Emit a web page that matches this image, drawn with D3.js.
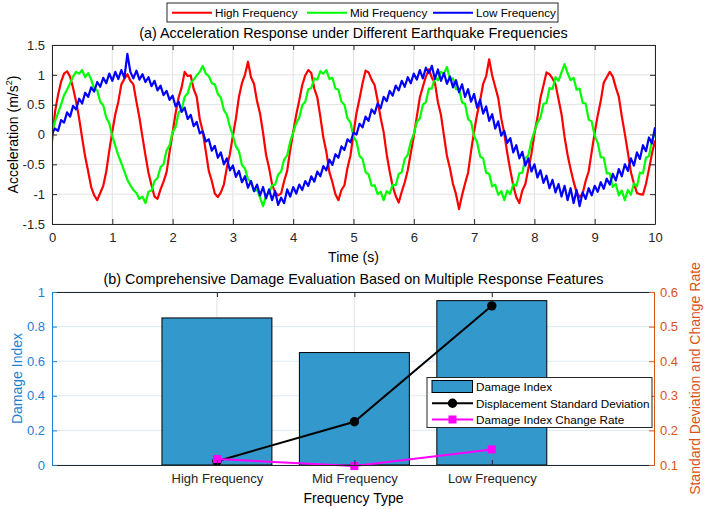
<!DOCTYPE html>
<html>
<head>
<meta charset="utf-8">
<script src="https://d3js.org/d3.v7.min.js"></script>
<style>
  body { margin: 0; background: #fff; }
  svg { font-family: "Liberation Sans", Arial, sans-serif; }
</style>
</head>
<body>
<svg id="chart" width="705" height="509"></svg>
<script>
// ---- data ----
const timeStep = 0.05; // s, samples from 0 to 10 s
const highFreq = [
  -0.12, 0.38, 0.66, 0.88, 1.02, 1.06, 0.97, 0.78, 0.55, 0.27, -0.06, -0.37, -0.62, -0.88, -1.02, -1.10, -0.98, -0.86, -0.62, -0.27,
  0.05, 0.34, 0.55, 0.84, 0.93, 1.01, 0.90, 0.84, 0.55, 0.28, -0.04, -0.35, -0.64, -0.85, -1.04, -1.08, -0.92, -0.79, -0.63, -0.29,
  0.03, 0.36, 0.62, 0.79, 1.05, 0.98, 0.99, 0.76, 0.63, 0.26, 0.05, -0.28, -0.61, -0.78, -0.99, -1.05, -0.97, -0.84, -0.55, -0.33,
  -0.02, 0.27, 0.63, 0.86, 1.00, 1.22, 0.96, 0.85, 0.56, 0.35, 0.03, -0.34, -0.56, -0.84, -0.97, -1.02, -0.99, -0.78, -0.61, -0.26,
  0.04, 0.33, 0.57, 0.83, 0.99, 1.08, 1.03, 0.77, 0.62, 0.30, -0.05, -0.29, -0.63, -0.80, -1.00, -1.10, -0.93, -0.85, -0.56, -0.35,
  0.02, 0.36, 0.60, 0.86, 1.07, 1.04, 0.92, 0.83, 0.57, 0.28, 0.04, -0.33, -0.62, -0.87, -1.03, -1.14, -0.96, -0.80, -0.60, -0.31,
  -0.03, 0.30, 0.62, 0.80, 0.97, 1.09, 0.95, 0.87, 0.54, 0.33, -0.02, -0.36, -0.57, -0.83, -1.00, -1.25, -1.02, -0.82, -0.64, -0.28,
  0.05, 0.34, 0.57, 0.85, 0.98, 1.26, 0.99, 0.80, 0.61, 0.27, 0.02, -0.31, -0.60, -0.86, -1.05, -1.15, -0.94, -0.83, -0.57, -0.33,
  0.01, 0.28, 0.61, 0.82, 1.04, 1.01, 0.94, 0.84, 0.59, 0.34, -0.04, -0.34, -0.58, -0.79, -0.97, -1.05, -0.99, -0.78, -0.62, -0.29,
  0.03, 0.32, 0.56, 0.87, 0.96, 1.05, 0.97, 0.79, 0.63, 0.30, 0.01, -0.30, -0.63, -0.82, -0.98, -1.00, -1.01, -0.83, -0.58, -0.32,
  -0.10
];
const midFreq = [
  0.02, 0.22, 0.36, 0.50, 0.66, 0.75, 0.86, 0.97, 1.05, 1.02, 1.08, 0.96, 1.03, 0.92, 0.77, 0.74, 0.55, 0.49, 0.28, 0.19,
  -0.03, -0.19, -0.35, -0.48, -0.62, -0.76, -0.85, -0.93, -0.98, -1.08, -1.04, -1.15, -0.96, -0.94, -0.78, -0.73, -0.55, -0.50, -0.27, -0.18,
  0.04, 0.13, 0.37, 0.42, 0.63, 0.69, 0.86, 0.92, 0.99, 1.05, 1.15, 1.02, 0.98, 0.86, 0.84, 0.68, 0.62, 0.41, 0.33, 0.13,
  -0.02, -0.20, -0.28, -0.51, -0.57, -0.75, -0.79, -0.95, -0.92, -1.06, -1.20, -1.02, -0.99, -0.85, -0.84, -0.67, -0.62, -0.42, -0.35, -0.12,
  0.03, 0.19, 0.28, 0.49, 0.55, 0.76, 0.78, 0.94, 0.92, 1.06, 1.02, 1.08, 0.93, 0.95, 0.77, 0.75, 0.55, 0.50, 0.27, 0.20,
  -0.04, -0.12, -0.36, -0.41, -0.63, -0.67, -0.86, -0.85, -1.00, -0.96, -1.10, -0.95, -0.99, -0.84, -0.85, -0.66, -0.63, -0.41, -0.34, -0.12,
  0.01, 0.21, 0.27, 0.50, 0.54, 0.77, 0.77, 0.95, 0.91, 1.05, 1.02, 1.13, 0.92, 0.94, 0.76, 0.76, 0.54, 0.51, 0.26, 0.21,
  -0.03, -0.13, -0.37, -0.40, -0.64, -0.66, -0.87, -0.84, -1.01, -0.95, -1.10, -0.94, -1.00, -0.83, -0.86, -0.65, -0.64, -0.40, -0.35, -0.11,
  0.05, 0.20, 0.28, 0.51, 0.53, 0.78, 0.76, 0.96, 0.90, 1.04, 1.18, 1.03, 0.91, 0.95, 0.75, 0.77, 0.53, 0.52, 0.25, 0.22,
  -0.02, -0.14, -0.38, -0.39, -0.65, -0.65, -0.88, -0.83, -1.02, -0.94, -1.10, -0.93, -1.01, -0.82, -0.87, -0.64, -0.65, -0.39, -0.36, -0.10,
  0.03
];
const lowFreq = [
  0.02, 0.10, 0.06, 0.24, 0.20, 0.37, 0.30, 0.48, 0.42, 0.60, 0.52, 0.70, 0.63, 0.79, 0.72, 0.88, 0.80, 0.95, 0.86, 1.02,
  0.90, 1.05, 0.93, 1.08, 0.95, 1.35, 1.05, 0.94, 1.07, 0.92, 1.01, 0.88, 0.96, 0.81, 0.90, 0.74, 0.82, 0.66, 0.73, 0.58,
  0.65, 0.47, 0.55, 0.38, 0.45, 0.26, 0.33, 0.14, 0.21, 0.02, 0.05, -0.12, -0.08, -0.27, -0.19, -0.39, -0.30, -0.50, -0.40, -0.60,
  -0.52, -0.71, -0.61, -0.80, -0.70, -0.89, -0.78, -0.95, -0.84, -1.02, -0.88, -1.07, -0.92, -1.10, -0.95, -1.18, -1.06, -1.15, -0.92, -1.04,
  -0.88, -0.99, -0.84, -0.93, -0.78, -0.86, -0.70, -0.79, -0.62, -0.70, -0.53, -0.60, -0.42, -0.51, -0.33, -0.39, -0.20, -0.26, -0.08, -0.13,
  0.03, 0.00, 0.18, 0.12, 0.30, 0.23, 0.42, 0.35, 0.52, 0.44, 0.63, 0.56, 0.73, 0.65, 0.82, 0.74, 0.90, 0.80, 0.96, 0.86,
  1.02, 0.92, 1.08, 0.94, 1.12, 1.03, 1.15, 0.93, 1.09, 0.90, 1.03, 0.85, 0.97, 0.79, 0.91, 0.71, 0.84, 0.63, 0.76, 0.55,
  0.68, 0.45, 0.58, 0.35, 0.47, 0.23, 0.34, 0.10, 0.22, -0.02, 0.06, -0.14, -0.06, -0.30, -0.18, -0.40, -0.29, -0.52, -0.40, -0.62,
  -0.50, -0.72, -0.60, -0.81, -0.69, -0.90, -0.76, -0.97, -0.83, -1.04, -0.86, -1.10, -0.90, -1.15, -0.93, -1.20, -0.97, -1.08, -0.90, -1.02,
  -0.86, -0.96, -0.80, -0.91, -0.74, -0.84, -0.66, -0.77, -0.58, -0.70, -0.50, -0.61, -0.40, -0.52, -0.30, -0.41, -0.18, -0.28, -0.05, -0.15,
  0.12
];
const seriesNames = ["High Frequency", "Mid Frequency", "Low Frequency"];
const timeTicks = [0, 1, 2, 3, 4, 5, 6, 7, 8, 9, 10];
const accTicks = [-1.5, -1, -0.5, 0, 0.5, 1, 1.5];

const categories = ["High Frequency", "Mid Frequency", "Low Frequency"];
const damageIndex = [0.85, 0.65, 0.95];
const dispStd = [0.111, 0.225, 0.56];
const changeRate = [0.117, 0.097, 0.145];
const damageTicks = [0, 0.2, 0.4, 0.6, 0.8, 1];
const stdTicks = [0.1, 0.2, 0.3, 0.4, 0.5, 0.6];

// ---- styles ----
const axisColor = "#262626";
const gridColor = "#e2e2e2";
const leftColor = "#1f7fd2";
const rightColor = "#d95319";
const lineColors = ["#ff0000", "#00ff00", "#0000ff"];
const svg = d3.select("#chart");

function styleAxis(g, color, fontSize) {
  g.attr("font-size", fontSize).attr("font-family", null);
  g.select(".domain").attr("stroke", color);
  g.selectAll(".tick line").attr("stroke", color);
  g.selectAll(".tick text").attr("fill", color);
}

// =========== (a) time histories ===========
const x1 = d3.scaleLinear().domain([0, 10]).range([52, 655]);
const y1 = d3.scaleLinear().domain([-1.5, 1.5]).range([224, 45]);

const grid1 = svg.append("g");
grid1.selectAll(".vg").data(timeTicks).join("line")
  .attr("x1", d => x1(d)).attr("x2", d => x1(d))
  .attr("y1", y1(-1.5)).attr("y2", y1(1.5))
  .attr("stroke", gridColor);
grid1.selectAll(".hg").data(accTicks).join("line")
  .attr("x1", x1(0)).attr("x2", x1(10))
  .attr("y1", d => y1(d)).attr("y2", d => y1(d))
  .attr("stroke", gridColor);

svg.append("clipPath").attr("id", "clipA")
  .append("rect").attr("x", 52).attr("y", 45).attr("width", 603).attr("height", 179);

const line1 = d3.line().x((d, i) => x1(i * timeStep)).y(d => y1(d));
svg.append("g").attr("clip-path", "url(#clipA)")
  .selectAll("path").data([highFreq, midFreq, lowFreq]).join("path")
  .attr("d", line1)
  .attr("fill", "none")
  .attr("stroke", (d, i) => lineColors[i])
  .attr("stroke-width", 2.2)
  .attr("stroke-linejoin", "round");

svg.append("g").attr("transform", `translate(0,${y1(-1.5)})`)
  .call(d3.axisBottom(x1).tickValues(timeTicks).tickSizeInner(-5).tickSizeOuter(0).tickPadding(9))
  .call(g => styleAxis(g, axisColor, 13));
svg.append("g").attr("transform", `translate(0,${y1(1.5)})`)
  .call(d3.axisTop(x1).tickValues(timeTicks).tickFormat("").tickSizeInner(-5).tickSizeOuter(0))
  .call(g => styleAxis(g, axisColor, 13));
svg.append("g").attr("transform", `translate(${x1(0)},0)`)
  .call(d3.axisLeft(y1).tickValues(accTicks).tickFormat(d => d).tickSizeInner(-5).tickSizeOuter(0).tickPadding(7))
  .call(g => styleAxis(g, axisColor, 13));
svg.append("g").attr("transform", `translate(${x1(10)},0)`)
  .call(d3.axisRight(y1).tickValues(accTicks).tickFormat("").tickSizeInner(-5).tickSizeOuter(0))
  .call(g => styleAxis(g, axisColor, 13));

svg.append("text").attr("x", 353.5).attr("y", 38).attr("text-anchor", "middle")
  .attr("font-size", 14.4).attr("fill", "#000")
  .text("(a) Acceleration Response under Different Earthquake Frequencies");
svg.append("text").attr("x", 353.5).attr("y", 261.5).attr("text-anchor", "middle")
  .attr("font-size", 14).attr("fill", "#000").text("Time (s)");
const yLab = svg.append("text").attr("transform", "translate(18,134.5) rotate(-90)")
  .attr("text-anchor", "middle").attr("font-size", 14).attr("fill", "#000");
yLab.append("tspan").text("Acceleration (m/s");
yLab.append("tspan").attr("font-size", 9).attr("dy", -6).text("2");
yLab.append("tspan").attr("dy", 6).text(")");

// legend (a)
const legA = svg.append("g");
legA.append("rect").attr("x", 167).attr("y", 3).attr("width", 391).attr("height", 19)
  .attr("fill", "#fff").attr("stroke", axisColor);
const legAx = [172, 307, 433];
legA.selectAll(".it").data(seriesNames).join("g")
  .each(function (d, i) {
    const g = d3.select(this);
    g.append("line").attr("x1", legAx[i]).attr("x2", legAx[i] + 40)
      .attr("y1", 12.7).attr("y2", 12.7)
      .attr("stroke", lineColors[i]).attr("stroke-width", 2);
    g.append("text").attr("x", legAx[i] + 43).attr("y", 16.8)
      .attr("font-size", 11.7).attr("fill", "#000").text(d);
  });

// =========== (b) damage evaluation ===========
const catPos = [1, 2, 3];
const x2 = d3.scaleLinear().domain([-0.2, 4.18]).range([52, 654]);
const yL = d3.scaleLinear().domain([0, 1]).range([465, 292]);
const yR = d3.scaleLinear().domain([0.1, 0.6]).range([465, 292]);

const grid2 = svg.append("g");
grid2.selectAll(".hg").data(damageTicks).join("line")
  .attr("x1", 52).attr("x2", 654)
  .attr("y1", d => yL(d)).attr("y2", d => yL(d))
  .attr("stroke", "#d9eaf5");
grid2.selectAll(".vg").data(catPos).join("line")
  .attr("x1", d => x2(d)).attr("x2", d => x2(d))
  .attr("y1", 292).attr("y2", 465)
  .attr("stroke", gridColor);

const barW = x2(0.8) - x2(0);
svg.append("g").selectAll("rect").data(damageIndex).join("rect")
  .attr("x", (d, i) => x2(catPos[i]) - barW / 2)
  .attr("y", d => yL(d))
  .attr("width", barW)
  .attr("height", d => yL(0) - yL(d))
  .attr("fill", "#3399cc")
  .attr("stroke", "#000").attr("stroke-width", 1);

const line2 = d3.line().x((d, i) => x2(catPos[i])).y(d => yR(d));
svg.append("path").datum(dispStd).attr("d", line2)
  .attr("fill", "none").attr("stroke", "#000").attr("stroke-width", 2);
svg.append("g").selectAll("circle").data(dispStd).join("circle")
  .attr("cx", (d, i) => x2(catPos[i])).attr("cy", d => yR(d)).attr("r", 4.7)
  .attr("fill", "#000");
svg.append("path").datum(changeRate).attr("d", line2)
  .attr("fill", "none").attr("stroke", "#ff00ff").attr("stroke-width", 2);
svg.append("g").selectAll("rect").data(changeRate).join("rect")
  .attr("x", (d, i) => x2(catPos[i]) - 4).attr("y", d => yR(d) - 4)
  .attr("width", 8).attr("height", 8)
  .attr("fill", "#ff00ff");

svg.append("g").attr("transform", "translate(0,465)")
  .call(d3.axisBottom(x2).tickValues(catPos).tickFormat((d, i) => categories[i])
    .tickSizeInner(-5).tickSizeOuter(0).tickPadding(9))
  .call(g => styleAxis(g, axisColor, 13));
svg.append("g").attr("transform", "translate(0,292)")
  .call(d3.axisTop(x2).tickValues(catPos).tickFormat("").tickSizeInner(-5).tickSizeOuter(0))
  .call(g => styleAxis(g, axisColor, 13));
svg.append("g").attr("transform", "translate(52,0)")
  .call(d3.axisLeft(yL).tickValues(damageTicks).tickFormat(d => d).tickSizeInner(-5).tickSizeOuter(0).tickPadding(7))
  .call(g => styleAxis(g, leftColor, 13));
svg.append("g").attr("transform", "translate(654,0)")
  .call(d3.axisRight(yR).tickValues(stdTicks).tickFormat(d => d).tickSizeInner(-5).tickSizeOuter(0).tickPadding(6))
  .call(g => styleAxis(g, rightColor, 13));

svg.append("text").attr("x", 353.5).attr("y", 284).attr("text-anchor", "middle")
  .attr("font-size", 14.4).attr("fill", "#000")
  .text("(b) Comprehensive Damage Evaluation Based on Multiple Response Features");
svg.append("text").attr("x", 353.5).attr("y", 503).attr("text-anchor", "middle")
  .attr("font-size", 14).attr("fill", "#000").text("Frequency Type");
svg.append("text").attr("transform", "translate(21.5,378.5) rotate(-90)")
  .attr("text-anchor", "middle").attr("font-size", 14).attr("fill", leftColor).text("Damage Index");
svg.append("text").attr("transform", "translate(700,378.5) rotate(-90)")
  .attr("text-anchor", "middle").attr("font-size", 14).attr("fill", rightColor)
  .text("Standard Deviation and Change Rate");

// legend (b)
const legB = svg.append("g");
legB.append("rect").attr("x", 427).attr("y", 377.5).attr("width", 225).attr("height", 50)
  .attr("fill", "#fff").attr("stroke", axisColor);
legB.append("rect").attr("x", 432).attr("y", 380.5).attr("width", 40.5).attr("height", 12)
  .attr("fill", "#3399cc").attr("stroke", "#000");
legB.append("line").attr("x1", 432).attr("x2", 473).attr("y1", 403.3).attr("y2", 403.3)
  .attr("stroke", "#000").attr("stroke-width", 2);
legB.append("circle").attr("cx", 452.5).attr("cy", 403.3).attr("r", 4.7).attr("fill", "#000");
legB.append("line").attr("x1", 432).attr("x2", 473).attr("y1", 419.5).attr("y2", 419.5)
  .attr("stroke", "#ff00ff").attr("stroke-width", 2);
legB.append("rect").attr("x", 448.5).attr("y", 415.5).attr("width", 8).attr("height", 8).attr("fill", "#ff00ff");
const legBText = ["Damage Index", "Displacement Standard Deviation", "Damage Index Change Rate"];
legB.selectAll(".lt").data(legBText).join("text")
  .attr("x", 476).attr("y", (d, i) => [390.8, 407.5, 423.7][i])
  .attr("font-size", 11.7).attr("fill", "#000").text(d => d);
</script>
</body>
</html>
